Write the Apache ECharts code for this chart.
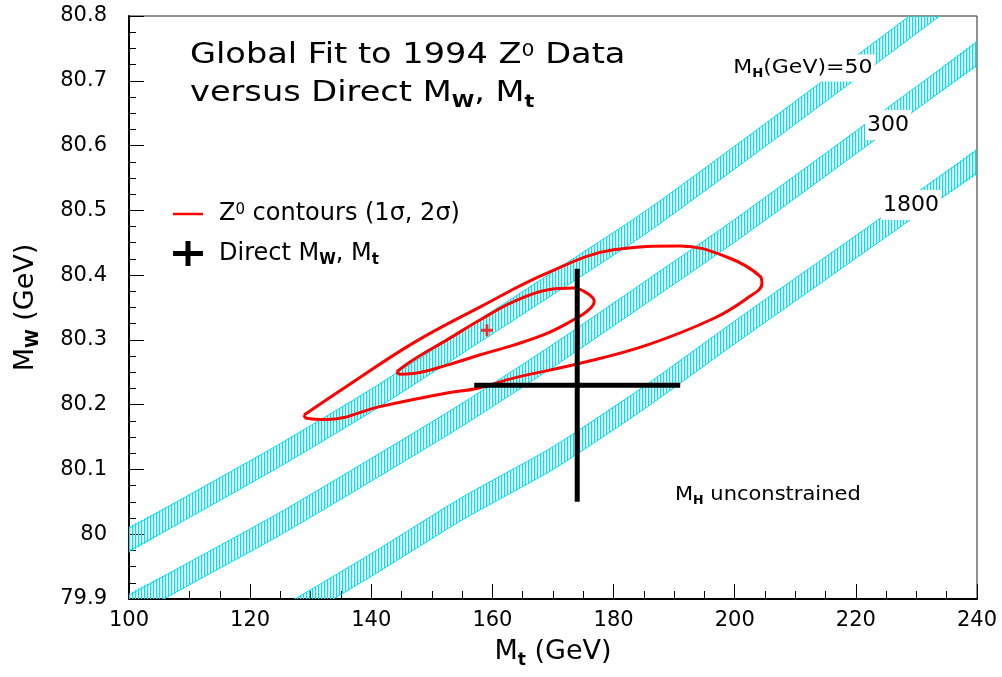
<!DOCTYPE html>
<html>
<head>
<meta charset="utf-8">
<script src="https://cdn.jsdelivr.net/npm/echarts@6/dist/echarts.min.js"></script>
<style>html,body{margin:0;padding:0;background:#fff}#chart{width:1002px;height:677px}</style>
</head>
<body>
<div id="chart"></div>
<script>
// ---------------- data ----------------
const xRange = [100, 240];
const xStep = 20;
const yRange = [79.9, 80.8];
const yStep = 0.1;

// Higgs-mass bands: upper / lower edges as [Mt, Mw]
const band50Upper  = [[95,79.983],[110,80.061],[125,80.140],[140,80.224],[155,80.314],[170,80.405],[185,80.497],[200,80.599],[215,80.703],[230,80.808],[245,80.914]];
const band50Lower  = [[95,79.948],[110,80.026],[125,80.105],[140,80.189],[155,80.279],[170,80.370],[185,80.462],[200,80.564],[215,80.668],[230,80.773],[245,80.879]];
const band300Upper = [[95,79.880],[110,79.957],[125,80.034],[140,80.117],[155,80.202],[170,80.293],[185,80.389],[200,80.486],[215,80.588],[230,80.691],[245,80.794]];
const band300Lower = [[95,79.845],[110,79.922],[125,79.999],[140,80.082],[155,80.167],[170,80.258],[185,80.354],[200,80.451],[215,80.553],[230,80.656],[245,80.759]];
const band1800Upper = [[95,79.729],[110,79.808],[125,79.887],[140,79.970],[155,80.057],[170,80.135],[185,80.228],[200,80.329],[215,80.428],[230,80.527],[245,80.626]];
const band1800Lower = [[95,79.694],[110,79.773],[125,79.852],[140,79.935],[155,80.022],[170,80.100],[185,80.193],[200,80.294],[215,80.393],[230,80.492],[245,80.591]];

// Z0 fit contours
const contour2Sigma = [[128.9,80.184],[135.9,80.228],[146.9,80.295],[158.0,80.351],[169.0,80.403],[180.0,80.439],[191.0,80.445],[198.7,80.428],[204.2,80.398],[204.5,80.387],[202.0,80.364],[196.5,80.333],[185.5,80.292],[174.5,80.264],[163.5,80.241],[157.4,80.225],[152.5,80.218],[141.4,80.197],[132.6,80.177],[129.3,80.179],[128.9,80.184]];
const contour1Sigma = [[144.2,80.251],[146.9,80.269],[152.5,80.300],[158.0,80.331],[163.5,80.359],[169.0,80.377],[173.4,80.380],[176.1,80.369],[176.8,80.359],[175.6,80.344],[173.4,80.331],[169.0,80.310],[163.5,80.292],[158.0,80.277],[152.5,80.261],[146.9,80.248],[144.7,80.247],[144.2,80.251]];
const fitCentre = [[159.1, 80.315]];

// direct measurement
const directMt = 174, directMtErr = 17;
const directMw = 80.23, directMwErr = 0.18;

const legendNames = ['Z0 contours', 'Direct'];

// ---------------- styling ----------------
const F = 'DejaVu Sans';
const CYAN = '#00dcee';

function hatch() {
  const c = document.createElement('canvas');
  c.width = 3; c.height = 4;
  const g = c.getContext('2d');
  g.fillStyle = '#00e2f2';
  g.fillRect(0, 0, 1, 4);
  g.fillStyle = 'rgba(0,226,242,0.3)';
  g.fillRect(1, 0, 1, 4);
  return c;
}
const hatchFill = { image: hatch(), repeat: 'repeat' };

function rich(s) {
  const L = Math.round(s * 1.25);
  const small = Math.round(s * 0.62);
  const base = { fontFamily: F, color: '#000', fill: '#000' };
  return {
    n: Object.assign({}, base, { fontSize: s, lineHeight: L }),
    lead: Object.assign({}, base, { fontSize: s, lineHeight: L, padding: [0, 0, 0, 11] }),
    sup: Object.assign({}, base, { fontSize: small, lineHeight: L, padding: [0, 0, Math.round(0.32 * s), 0] }),
    sub: Object.assign({}, base, { fontSize: small, fontWeight: 'bold', lineHeight: L, padding: [Math.round(0.6 * s), 0, 0, 0] })
  };
}

function bandSeries(name, upper, lower) {
  const pts = upper.concat(lower.slice().reverse());
  return {
    type: 'custom', name: name, clip: true, silent: true, z: 1,
    data: pts,
    encode: { x: 0, y: 1 },
    renderItem: function (params, api) {
      if (params.dataIndex !== 0) return null;
      const cs = params.coordSys;
      const up = upper.map(p => api.coord(p));
      const lo = lower.map(p => api.coord(p));
      const poly = up.concat(lo.slice().reverse());
      return {
        type: 'group',
        clipPath: { type: 'rect', shape: { x: cs.x, y: cs.y, width: cs.width, height: cs.height } },
        children: [
          { type: 'polygon', shape: { points: poly, smooth: 0.2 }, style: { fill: hatchFill, stroke: null } },
          { type: 'polyline', shape: { points: up, smooth: 0.2 }, style: { stroke: CYAN, lineWidth: 1, fill: null } },
          { type: 'polyline', shape: { points: lo, smooth: 0.2 }, style: { stroke: CYAN, lineWidth: 1, fill: null } }
        ]
      };
    }
  };
}

function label(x, y, s, text, opts) {
  opts = opts || {};
  return {
    type: 'text', x: x, y: y, scaleX: opts.scaleX || 1, z: 100, silent: true,
    style: Object.assign({
      text: text, rich: rich(s), fontFamily: F, fontSize: s, fill: '#000',
      align: 'left', verticalAlign: 'middle'
    }, opts.bg ? { backgroundColor: '#fff', padding: [1, 2] } : {})
  };
}

const chart = echarts.init(document.getElementById('chart'), null, { renderer: 'canvas' });

const option = {
  animation: false,
  backgroundColor: '#fff',
  grid: { left: 129, right: 25, top: 16, bottom: 78, show: true, borderColor: '#222', borderWidth: 1, backgroundColor: 'transparent' },
  xAxis: {
    type: 'value', min: xRange[0], max: xRange[1], interval: xStep,
    name: '{n|M}{sub|t}{n| (GeV)}', nameLocation: 'middle', nameGap: 35,
    nameTextStyle: { fontFamily: F, fontSize: 27, color: '#000', rich: rich(27) },
    axisLine: { show: true, onZero: false, lineStyle: { color: '#000', width: 2 } },
    axisTick: { show: true, inside: true, length: 15, lineStyle: { color: '#000', width: 1 } },
    minorTick: { show: true, splitNumber: 4, length: 8, lineStyle: { color: '#000', width: 1 } },
    axisLabel: { fontFamily: F, fontSize: 21, color: '#000', margin: 11 },
    splitLine: { show: false }
  },
  yAxis: {
    type: 'value', min: yRange[0], max: yRange[1], interval: yStep,
    name: '{n|M}{sub|W}{n| (GeV)}', nameLocation: 'middle', nameGap: 86,
    nameTextStyle: { fontFamily: F, fontSize: 27, color: '#000', rich: rich(27) },
    axisLine: { show: true, onZero: false, lineStyle: { color: '#000', width: 2 } },
    axisTick: { show: true, inside: true, length: 15, lineStyle: { color: '#000', width: 1 } },
    minorTick: { show: true, splitNumber: 4, length: 7, lineStyle: { color: '#000', width: 1 } },
    axisLabel: { fontFamily: F, fontSize: 21, color: '#000', margin: 22 },
    splitLine: { show: false }
  },
  legend: {
    orient: 'vertical', left: 168, top: 197, itemWidth: 30, itemHeight: 25, itemGap: 13,
    selectedMode: false, symbolKeepAspect: true,
    data: [
      { name: legendNames[0], icon: 'path://M0,0H30V2.5H0Z' },
      { name: legendNames[1], icon: 'path://M0,10H30V15H0Z M12.5,0H17.5V25H12.5Z' }
    ],
    formatter: function (name) {
      if (name === legendNames[0]) return '{lead|Z}{sup|0}{n| contours (1σ, 2σ)}';
      return '{lead|Direct M}{sub|W}{n|, M}{sub|t}';
    },
    textStyle: { fontFamily: F, fontSize: 24, color: '#000', rich: rich(24) }
  },
  graphic: { elements: [
    label(190, 56, 28, '{n|Global Fit to 1994 Z}{sup|0}{n| Data}', { scaleX: 1.2 }),
    label(190, 94, 28, '{n|versus Direct M}{sub|W}{n|, M}{sub|t}', { scaleX: 1.2 }),
    label(731, 68, 20, '{n|M}{sub|H}{n|(GeV)=50}', { scaleX: 1.1, bg: true }),
    label(865, 125, 22, '{n|300}', { bg: true }),
    label(881, 205, 22, '{n|1800}', { bg: true }),
    label(675, 495, 20, '{n|M}{sub|H}{n| unconstrained}', { scaleX: 1.05 })
  ] },
  series: [
    bandSeries('MH 50', band50Upper, band50Lower),
    bandSeries('MH 300', band300Upper, band300Lower),
    bandSeries('MH 1800', band1800Upper, band1800Lower),
    { type: 'line', name: legendNames[0], data: contour2Sigma, smooth: 0.4, symbol: 'none', z: 3, silent: true,
      lineStyle: { color: '#f00', width: 3 }, itemStyle: { color: '#f00' } },
    { type: 'line', name: legendNames[0], data: contour1Sigma, smooth: 0.4, symbol: 'none', z: 3, silent: true,
      lineStyle: { color: '#f00', width: 3 }, itemStyle: { color: '#f00' } },
    { type: 'scatter', name: 'fit', data: fitCentre, symbol: 'path://M4.5,0H7.5V12H4.5Z M0,4.5H12V7.5H0Z', symbolSize: 12, z: 4, silent: true,
      itemStyle: { color: '#f00' } },
    { type: 'line', name: legendNames[1], symbol: 'none', z: 5, silent: true,
      data: [[directMt - directMtErr, directMw], [directMt + directMtErr, directMw]],
      lineStyle: { color: '#000', width: 5, cap: 'butt' }, itemStyle: { color: '#000' } },
    { type: 'line', name: legendNames[1], symbol: 'none', z: 5, silent: true,
      data: [[directMt, directMw - directMwErr], [directMt, directMw + directMwErr]],
      lineStyle: { color: '#000', width: 5, cap: 'butt' }, itemStyle: { color: '#000' } }
  ]
};
chart.setOption(option);
</script>
</body>
</html>
